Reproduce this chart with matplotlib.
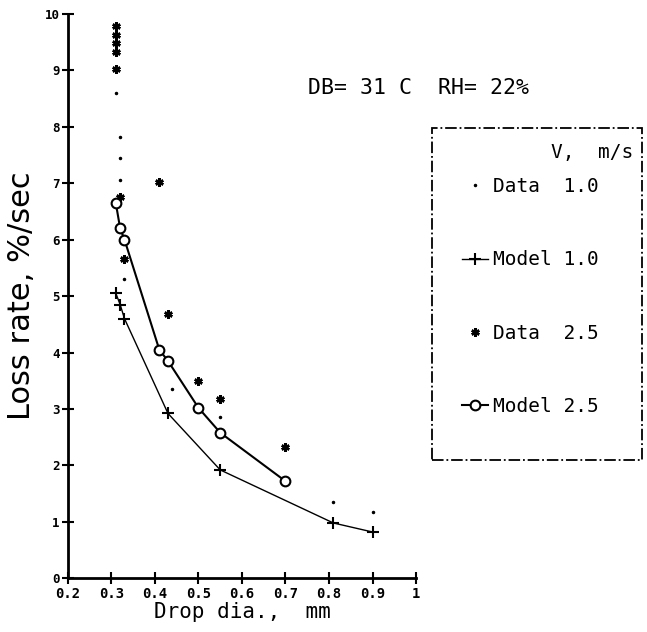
import matplotlib.pyplot as plt
from matplotlib.lines import Line2D
from matplotlib.patches import Rectangle

# drop diameter (mm) and loss rate (%/sec)
model25_x = [0.31, 0.32, 0.33, 0.41, 0.43, 0.50, 0.55, 0.70]
model25_y = [6.65, 6.20, 6.00, 4.05, 3.85, 3.02, 2.58, 1.72]

model10_x = [0.31, 0.32, 0.33, 0.43, 0.55, 0.81, 0.90]
model10_y = [5.05, 4.85, 4.60, 2.92, 1.92, 0.98, 0.82]

data25_x = [0.31, 0.31, 0.31, 0.31, 0.31, 0.32, 0.33, 0.41, 0.43, 0.50, 0.55, 0.70]
data25_y = [9.78, 9.62, 9.48, 9.32, 9.02, 6.75, 5.65, 7.02, 4.68, 3.50, 3.18, 2.32]

data10_x = [0.31, 0.32, 0.32, 0.32, 0.33, 0.44, 0.55, 0.81, 0.90]
data10_y = [8.60, 7.82, 7.45, 7.05, 5.30, 3.35, 2.85, 1.35, 1.18]

xticks = [0.2, 0.3, 0.4, 0.5, 0.6, 0.7, 0.8, 0.9, 1.0]
xticklabels = ["0.2", "0.3", "0.4", "0.5", "0.6", "0.7", "0.8", "0.9", "1"]
yticks = list(range(0, 11))

mono = "DejaVu Sans Mono"
ast = (6, 2, 0)

fig = plt.figure(figsize=(6.47, 6.32), dpi=100)
ax = fig.add_axes([0.105, 0.085, 0.538, 0.893])

ax.plot(data10_x, data10_y, ".", color="k", ms=3)
ax.plot(model10_x, model10_y, "-", color="k", lw=1.0, marker="+", ms=9, mew=1.5)
ax.plot(data25_x, data25_y, ls="none", color="k", marker=ast, ms=6, mew=1.8)
ax.plot(model25_x, model25_y, "-", color="k", lw=1.5, marker="o", ms=7,
        mfc="white", mew=1.5)

ax.set_xlim(0.2, 1.0)
ax.set_ylim(0, 10)
ax.set_xticks(xticks)
ax.set_xticklabels(xticklabels, family=mono, fontweight="bold", fontsize=10)
ax.set_yticks(yticks)
ax.set_yticklabels([str(t) for t in yticks], family=mono, fontweight="bold", fontsize=9)
ax.tick_params(direction="inout", length=8, width=1.5, pad=2)
for s in ["top", "right"]:
    ax.spines[s].set_visible(False)
for s in ["left", "bottom"]:
    ax.spines[s].set_linewidth(2)

ax.set_xlabel("Drop dia.,  mm", family=mono, fontsize=15, labelpad=1)
ax.set_ylabel("Loss rate, %/sec", fontsize=22, labelpad=6)

fig.text(0.476, 0.861, "DB= 31 C  RH= 22%", family=mono, fontsize=15.5, va="center")

# legend box with dash-dot border
fig.patches.append(Rectangle((0.668, 0.272), 0.324, 0.525, transform=fig.transFigure,
                             fill=False, ec="k", lw=1.3, ls="-."))
fig.text(0.978, 0.758, "V,  m/s", family=mono, fontsize=14, ha="right", va="center")

handles = [
    Line2D([], [], ls="none", color="k", marker=".", ms=3),
    Line2D([], [], color="k", lw=1.0, marker="+", ms=9, mew=1.5),
    Line2D([], [], ls="none", color="k", marker=ast, ms=6, mew=1.8),
    Line2D([], [], color="k", lw=1.5, marker="o", ms=7, mfc="white", mew=1.5),
]
labels = ["Data  1.0", "Model 1.0", "Data  2.5", "Model 2.5"]
leg = fig.legend(handles, labels, loc="upper right", bbox_to_anchor=(0.926, 0.72),
                 prop={"family": mono, "size": 14}, numpoints=1,
                 labelspacing=2.8, handlelength=1.3, handletextpad=0.3,
                 borderpad=0, borderaxespad=0, frameon=False)

fig.savefig("out.png", dpi=100)
